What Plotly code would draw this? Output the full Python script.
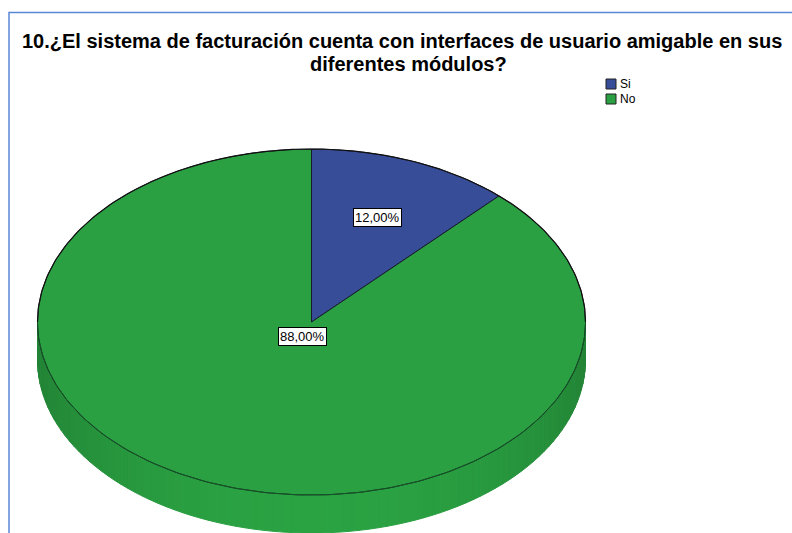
import numpy as np
import plotly.graph_objects as go

# Survey answers
categories = ["Si", "No"]
percentages = [12.0, 88.0]
slice_colors = ["#374d97", "#2aa042"]
title_lines = ["10.¿El sistema de facturación cuenta con interfaces de usuario amigable en sus",
               "diferentes módulos?"]

W, H = 792, 533
CX, CY = 311.5, 322.0      # centre of the top face
RX, RY = 274.0, 173.0      # radii of the top face ellipse
DEPTH = 38.0               # thickness of the disc
FONT = "Liberation Sans, Arial, sans-serif"


def ellipse_pts(t, dy=0.0):
    # screen coordinates: y grows downward, t measured clockwise from 3 o'clock
    return CX + RX * np.cos(t), CY + RY * np.sin(t) + dy


def shade(hex_color, f):
    h = hex_color.lstrip("#")
    r, g, b = (int(h[i:i + 2], 16) for i in (0, 2, 4))
    return "rgb(%d,%d,%d)" % (min(255, r * f), min(255, g * f), min(255, b * f))


fig = go.Figure()

# Angular extent of each slice, starting at 12 o'clock and running clockwise
total = float(sum(percentages))
starts, ends = [], []
acc = -np.pi / 2
for v in percentages:
    starts.append(acc)
    acc += 2 * np.pi * v / total
    ends.append(acc)

# Visible rim of the disc (front half, t in [0, pi]), coloured by the slice it belongs to
n_seg = 90
edges = np.linspace(0, np.pi, n_seg + 1)
for i in range(n_seg):
    t0, t1 = edges[i], edges[i + 1]
    tm = 0.5 * (t0 + t1)
    k = 0
    for j in range(len(percentages)):
        a = (tm - starts[j]) % (2 * np.pi)
        if a <= (ends[j] - starts[j]):
            k = j
            break
    f = 0.82 + 0.20 * np.sin(tm) ** 1.5
    ts = np.linspace(t0, t1, 4)
    xt, yt = ellipse_pts(ts)
    xb, yb = ellipse_pts(ts[::-1], DEPTH)
    col = shade(slice_colors[k], f)
    fig.add_trace(go.Scatter(
        x=np.concatenate([xt, xb, xt[:1]]), y=np.concatenate([yt, yb, yt[:1]]),
        mode="lines", fill="toself", fillcolor=col,
        line=dict(color=col, width=1), hoverinfo="skip", showlegend=False))

# Top face slices
for cat, v, c, a0, a1 in zip(categories, percentages, slice_colors, starts, ends):
    ts = np.linspace(a0, a1, 240)
    xs, ys = ellipse_pts(ts)
    fig.add_trace(go.Scatter(
        x=np.concatenate([[CX], xs, [CX]]), y=np.concatenate([[CY], ys, [CY]]),
        mode="lines", fill="toself", fillcolor=c,
        line=dict(color="rgba(20,20,40,0.9)", width=1),
        name=cat, hoverinfo="text", text="%s: %.2f%%" % (cat, v), showlegend=False))

# Back outline of the top face (darker), front outline softened
tb = np.linspace(np.pi, 2 * np.pi, 200)
xb_, yb_ = ellipse_pts(tb)
fig.add_trace(go.Scatter(x=xb_, y=yb_, mode="lines",
                         line=dict(color="#111111", width=1.2),
                         hoverinfo="skip", showlegend=False))
tf = np.linspace(0, np.pi, 200)
xf_, yf_ = ellipse_pts(tf)
fig.add_trace(go.Scatter(x=xf_, y=yf_, mode="lines",
                         line=dict(color="rgba(20,90,35,0.9)", width=1),
                         hoverinfo="skip", showlegend=False))

# Percentage labels inside the slices
annotations = []
for v, a0, a1 in zip(percentages, starts, ends):
    mid = 0.5 * (a0 + a1)
    frac = 0.65 if v / total < 0.5 else 0.09
    lx, ly = CX + frac * RX * np.cos(mid), CY + frac * RY * np.sin(mid)
    annotations.append(dict(
        x=lx, y=ly, xref="x", yref="y", showarrow=False,
        text=("%.2f%%" % v).replace(".", ","),
        font=dict(family=FONT, size=13, color="#000000"),
        bgcolor="#ffffff", bordercolor="#000000", borderwidth=1, borderpad=1))

# Title, two centred lines
title_pos = [(402, 41), (408, 64)]
for line, (tx, ty) in zip(title_lines, title_pos):
    annotations.append(dict(
        x=tx, y=ty, xref="x", yref="y", showarrow=False, align="center", borderpad=0,
        text="<b>%s</b>" % line,
        font=dict(family=FONT, size=20, color="#000000")))

# Frame and legend
shapes = [dict(type="rect", x0=9, y0=12.5, x1=W + 10, y1=H + 10, xref="x", yref="y",
               line=dict(color="#5a86d6", width=1.5), fillcolor="rgba(0,0,0,0)")]
for i, (cat, c) in enumerate(zip(categories, slice_colors)):
    y0 = 79 + i * 15
    shapes.append(dict(type="rect", x0=606, x1=616, y0=y0, y1=y0 + 10, xref="x", yref="y",
                       fillcolor=c, line=dict(color="#222222", width=1)))
    annotations.append(dict(x=618, y=y0 + 5, xref="x", yref="y", showarrow=False,
                            xanchor="left", text=cat,
                            font=dict(family=FONT, size=12, color="#000000")))

fig.update_layout(
    width=W, height=H, margin=dict(l=0, r=0, t=0, b=0),
    paper_bgcolor="#ffffff", plot_bgcolor="#ffffff",
    xaxis=dict(range=[0, W], visible=False, fixedrange=True),
    yaxis=dict(range=[H, 0], visible=False, fixedrange=True),
    shapes=shapes, annotations=annotations, showlegend=False)

fig.write_html("out.html")
